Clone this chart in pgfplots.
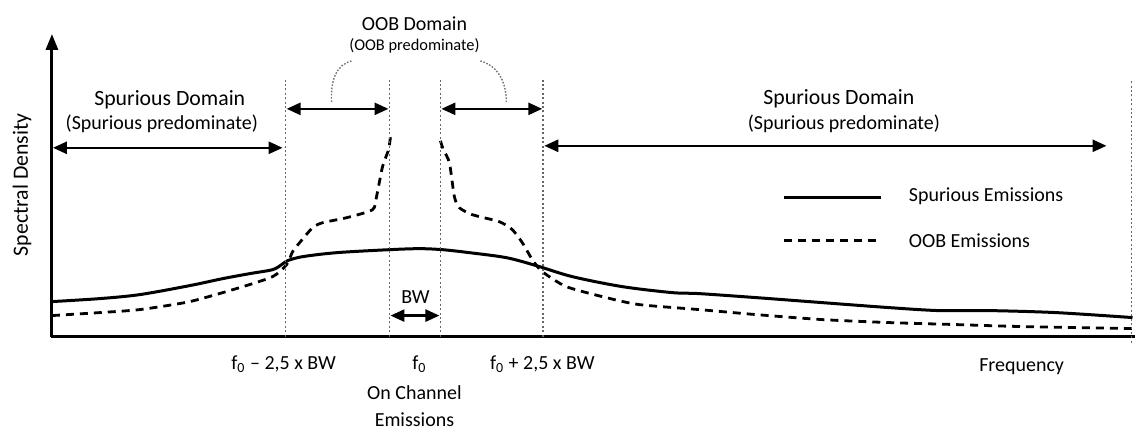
\documentclass[border=0pt]{standalone}
\usepackage{fontspec}
\setmainfont{Carlito}
\usepackage{pgfplots}
\pgfplotsset{compat=1.18}
\usetikzlibrary{arrows.meta}

\newcommand{\fs}[1]{\fontsize{#1}{#1}\selectfont}
\tikzset{
  dom/.style={line width=1.3pt, {Triangle[length=7pt,width=6pt]}-{Triangle[length=7pt,width=6pt]}},
  border/.style={black!60, line width=0.8pt, dash pattern=on 1pt off 1.2pt},
  oob/.style={line width=1.4pt, dash pattern=on 4pt off 3pt},
}

\begin{document}
\begin{tikzpicture}
\begin{axis}[
    width=568pt, height=215pt,
    scale only axis,
    xmin=0, xmax=1136,
    ymin=-93, ymax=337,
    hide axis,
    clip=false,
    every node/.style={font=\fs{11.3}, text=black!90, inner sep=0pt},
  ]
  % keep the page exactly the size of the reference
  \path[draw=none] (axis cs:0,-93) rectangle (axis cs:1136,337);

  % spurious emissions
  \addplot[line width=1.5pt, smooth, tension=0.5] coordinates {
    (52,35) (100,38) (140,42) (190,51) (223,58) (250,63) (273,67)
    (282,72) (288,76) (303,80) (337,84) (390,87) (420,88) (443,87)
    (470,84) (507,79) (537,71) (573,60) (623,50) (673,44) (700,43)
    (757,39) (823,34) (890,29) (940,26) (990,26) (1057,24) (1134,19)
  };

  % OOB emissions, below the channel
  \addplot[oob, smooth, tension=0.4] coordinates {
    (52,21) (100,24) (140,27) (190,35) (240,49) (273,60) (287,72)
    (293,85) (300,94) (313,109) (323,114) (347,119) (373,127)
    (377,140) (383,170) (389,187) (391,200)
  };
  % OOB emissions, above the channel
  \addplot[oob, smooth, tension=0.4] coordinates {
    (441,196) (444,187) (450,174) (455,140) (460,129) (473,122)
    (500,115) (513,107) (523,94) (533,77) (543,65) (567,50) (607,39)
    (640,32) (700,27) (757,22) (823,17) (890,14) (957,12) (1023,10)
    (1134,8)
  };

  % axes
  \draw[line width=1.5pt, -{Triangle[length=8pt,width=6pt]}] (axis cs:52,0) -- (axis cs:52,303);
  \draw[line width=1.5pt] (axis cs:51,0) -- (axis cs:1136,0);

  % domain borders
  \draw[border] (axis cs:286,0) -- (axis cs:286,257);
  \draw[border] (axis cs:390,0) -- (axis cs:390,257);
  \draw[border] (axis cs:441,0) -- (axis cs:441,257);
  \draw[border] (axis cs:544,0) -- (axis cs:544,257);
  \draw[border] (axis cs:1133,-6) -- (axis cs:1133,257);

  % domain arrows
  \draw[dom] (axis cs:53,189) -- (axis cs:283,189);
  \draw[dom] (axis cs:287,228) -- (axis cs:389,228);
  \draw[dom] (axis cs:442,228) -- (axis cs:543,228);
  \draw[dom] (axis cs:545,191) -- (axis cs:1108,191);
  \draw[dom] (axis cs:391,21) -- (axis cs:440,21);

  % braces towards the OOB label
  \draw[black!55, line width=0.7pt, dash pattern=on 0.8pt off 0.8pt]
    (axis cs:332,235) .. controls (axis cs:331,258) and (axis cs:337,272) .. (axis cs:352,276);
  \draw[black!55, line width=0.7pt, dash pattern=on 0.8pt off 0.8pt]
    (axis cs:481,276) .. controls (axis cs:496,272) and (axis cs:507,258) .. (axis cs:507,235);

  % labels
  \node at (axis cs:415,313) {OOB Domain};
  \node[font=\fs{8.2}] at (axis cs:415,291) {(OOB predominate)};
  \node[font=\fs{10.9}] at (axis cs:170,237) {Spurious Domain};
  \node[font=\fs{10}] at (axis cs:162,213) {(Spurious predominate)};
  \node[font=\fs{10.9}] at (axis cs:840,238) {Spurious Domain};
  \node[font=\fs{10}] at (axis cs:845,213) {(Spurious predominate)};
  \node[rotate=90, font=\fs{10.9}] at (axis cs:22,152) {Spectral Density};
  \node at (axis cs:416,40) {BW};

  \node at (axis cs:284,-28) {f\textsubscript{0} – 2,5 x BW};
  \node at (axis cs:420,-28) {f\textsubscript{0}};
  \node at (axis cs:543,-28) {f\textsubscript{0} + 2,5 x BW};
  \node at (axis cs:415,-56) {On Channel};
  \node at (axis cs:415,-83) {Emissions};
  \node at (axis cs:1023,-30) {Frequency};

  % legend
  \draw[line width=1.5pt] (axis cs:785,139) -- (axis cs:882,139);
  \draw[oob] (axis cs:785,96) -- (axis cs:882,96);
  \node[anchor=west] at (axis cs:903,140) {Spurious Emissions};
  \node[anchor=west] at (axis cs:903,96) {OOB Emissions};
\end{axis}
\end{tikzpicture}
\end{document}
